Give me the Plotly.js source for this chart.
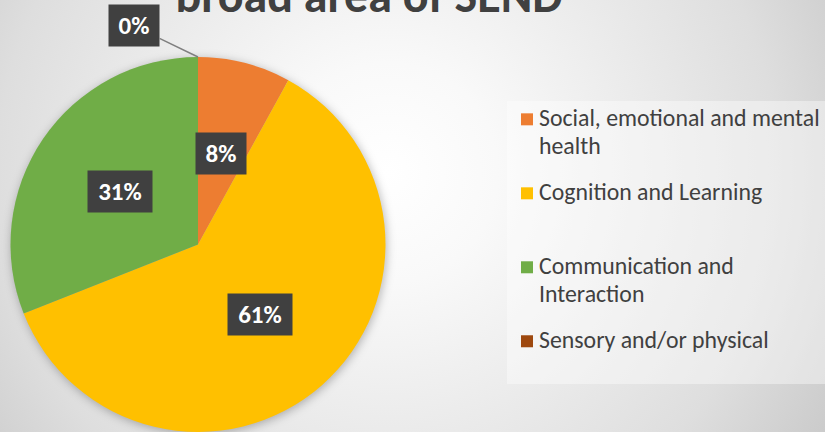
<!DOCTYPE html>
<html>
<head>
<meta charset="utf-8">
<script src="https://cdn.plot.ly/plotly-3.0.1.min.js"></script>
<style>
  html, body { margin: 0; padding: 0; }
  #chart {
    width: 825px; height: 432px;
    background: radial-gradient(circle at 47% 40%, #ffffff 0px, #f9f9f9 110px, #dedede 390px, #c6c6c6 540px);
  }
  #chart .pielayer { filter: drop-shadow(1px 2px 5px rgba(0,0,0,0.28)); }
  .legendtext { font-size: 21.5px !important; }
  #chart .legendtext { transform: translateX(-8px); }
  #chart .gtitle { transform: translateY(-5px); }
</style>
</head>
<body>
<div id="chart"></div>
<script>
// ---- data ----
const categories = [
  "Social, emotional and mental health",
  "Cognition and Learning",
  "Communication and Interaction",
  "Sensory and/or physical"
];
const legendLines = [
  ["Social, emotional and mental", "health"],
  ["Cognition and Learning"],
  ["Communication and", "Interaction"],
  ["Sensory and/or physical"]
];
const values = [8, 61, 31, 0];
const sliceColors = ["#ED7D31", "#FFC000", "#70AD47", "#9E480E"];
const titleText = "broad area of SEND";

// ---- layout helpers ----
const W = 825, H = 432;
const FONT = 'Carlito, Lato, sans-serif';
const dom = { x: [10 / W, 386 / W], y: [0, 1 - 57 / H] };
const domW = (dom.x[1] - dom.x[0]) * W, domH = (dom.y[1] - dom.y[0]) * H;
const R = Math.min(domW, domH) / 2;
const cx = (dom.x[0] + dom.x[1]) / 2 * W;
const cy = H - (dom.y[0] + dom.y[1]) / 2 * H;

const span = s => '<span style="font-size:23.8px">' + s + '</span>';
const legendText = legendLines.map((lines, i) => {
  const want = i === legendLines.length - 1 ? 2 : 3;
  const padded = lines.slice();
  while (padded.length < want) padded.push('\u00a0');
  return padded.map(span).join('<br>');
});

const total = values.reduce((a, b) => a + b, 0);
const annotations = [];
let cum = 0;
values.forEach((v, i) => {
  const label = Math.round(v / total * 100) + '%';
  const mid = (cum + v / 2) / total;
  const th = 2 * Math.PI * mid;
  const common = {
    text: '<b>' + label + '</b>',
    xref: 'paper', yref: 'paper',
    xanchor: 'center', yanchor: 'middle',
    bgcolor: '#404040', borderpad: 5,
    width: label.length * 14 + 12,
    font: { family: FONT, size: 25, color: '#ffffff' }
  };
  if (v > 0) {
    const px = cx + 0.5 * R * Math.sin(th);
    const py = cy - 0.5 * R * Math.cos(th);
    annotations.push(Object.assign(common, { x: px / W, y: 1 - py / H, showarrow: false }));
  } else {
    const px = cx + R * Math.sin(th);
    const py = cy - R * Math.cos(th);
    annotations.push(Object.assign(common, {
      x: px / W, y: 1 - py / H, showarrow: true, arrowhead: 0,
      arrowwidth: 1.5, arrowcolor: '#7f7f7f', ax: -64, ay: -31
    }));
  }
  cum += v;
});

const trace = {
  type: 'pie',
  labels: legendText,
  values: values,
  sort: false,
  direction: 'clockwise',
  rotation: 0,
  textinfo: 'none',
  hoverinfo: 'skip',
  marker: { colors: sliceColors, line: { width: 0 } },
  domain: dom
};

const layout = {
  width: W, height: H,
  margin: { l: 0, r: 0, t: 0, b: 0, autoexpand: false },
  paper_bgcolor: 'rgba(0,0,0,0)',
  plot_bgcolor: 'rgba(0,0,0,0)',
  title: {
    text: '<b>' + titleText + '</b>',
    x: 369 / W, xref: 'paper', xanchor: 'center',
    y: 1, yref: 'container', yanchor: 'middle',
    font: { family: FONT, size: 48, color: '#404040' }
  },
  showlegend: true,
  legend: {
    x: 507 / W, xanchor: 'left',
    y: 1 - 101 / H, yanchor: 'top',
    valign: 'top',
    bgcolor: 'rgba(255,255,255,0.4)',
    font: { family: FONT, size: 18.2, color: '#404040' }
  },
  annotations: annotations
};

Plotly.newPlot('chart', [trace], layout, { staticPlot: true, displayModeBar: false });
</script>
</body>
</html>
